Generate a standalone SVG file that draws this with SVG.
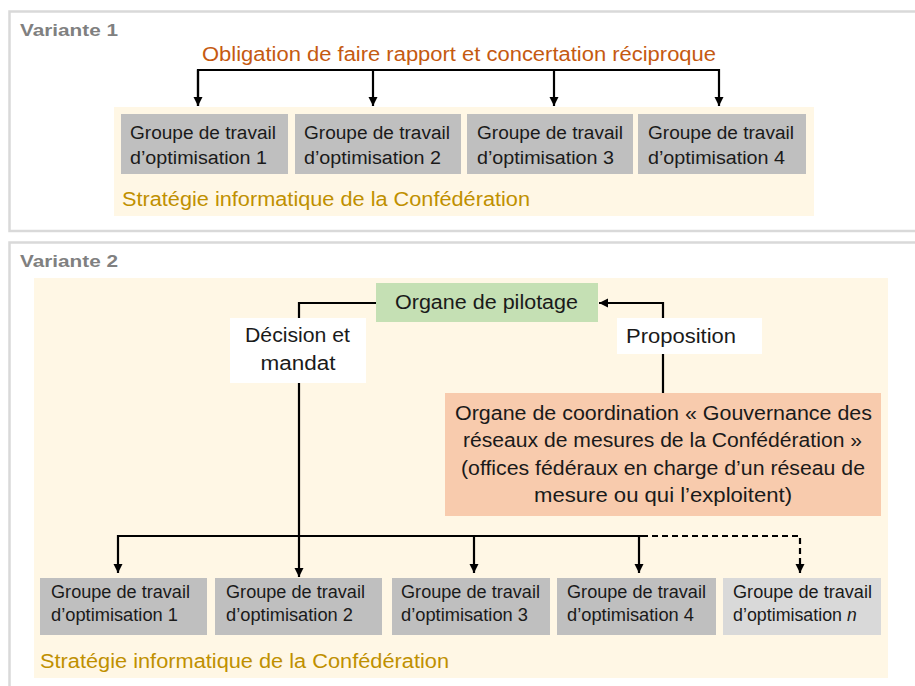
<svg xmlns="http://www.w3.org/2000/svg" width="915" height="686" viewBox="0 0 915 686">
<defs>
<style>
text{font-family:"Liberation Sans",Arial,sans-serif;}
.frame{fill:#fff;stroke:#d9d9d9;stroke-width:2.5;}
.title{font-size:17px;font-weight:bold;fill:#808080;}
.bg{fill:#fff7e5;}
.grp{fill:#bfbfbf;}
.grpl{fill:#d9d9d9;}
.t{font-size:18px;fill:#1a1a1a;}
.t2{font-size:17.5px;fill:#1a1a1a;}
.gold{font-size:19.5px;fill:#bf9000;}
.orange{font-size:19.5px;fill:#c55a11;}
.c{fill:none;stroke:#000;stroke-width:2.2;}
.dash{stroke-dasharray:6,4;}
.lbl{fill:#fff;}
.big{font-size:19.5px;fill:#1a1a1a;}
</style>
<marker id="ah" viewBox="0 0 10 10" refX="10" refY="5" markerWidth="9" markerHeight="10" markerUnits="userSpaceOnUse" orient="auto">
<path d="M0,0 L10,5 L0,10 z" fill="#000"/>
</marker>
</defs>

<!-- Variante 1 -->
<g id="variante1">
<rect class="frame" x="9.5" y="11.5" width="912" height="219.5"/>
<text class="title" x="20" y="36" textLength="98" lengthAdjust="spacingAndGlyphs">Variante 1</text>
<text class="orange" x="202" y="61" textLength="514" lengthAdjust="spacingAndGlyphs">Obligation de faire rapport et concertation réciproque</text>
<rect class="bg" x="114" y="107" width="700" height="109"/>
<text class="gold" x="122" y="206" textLength="408" lengthAdjust="spacingAndGlyphs">Stratégie informatique de la Confédération</text>
</g>
<g id="v1-g1">
<rect class="grp" x="121" y="114" width="167" height="60"/>
<text class="t" x="130" y="139" textLength="146" lengthAdjust="spacingAndGlyphs">Groupe de travail</text>
<text class="t" x="130" y="164" textLength="137" lengthAdjust="spacingAndGlyphs">d’optimisation 1</text>
</g>
<g id="v1-g2">
<rect class="grp" x="295" y="114" width="166" height="60"/>
<text class="t" x="304" y="139" textLength="146" lengthAdjust="spacingAndGlyphs">Groupe de travail</text>
<text class="t" x="304" y="164" textLength="137" lengthAdjust="spacingAndGlyphs">d’optimisation 2</text>
</g>
<g id="v1-g3">
<rect class="grp" x="467" y="114" width="166" height="60"/>
<text class="t" x="477" y="139" textLength="146" lengthAdjust="spacingAndGlyphs">Groupe de travail</text>
<text class="t" x="477" y="164" textLength="137" lengthAdjust="spacingAndGlyphs">d’optimisation 3</text>
</g>
<g id="v1-g4">
<rect class="grp" x="638" y="114" width="168" height="60"/>
<text class="t" x="648" y="139" textLength="146" lengthAdjust="spacingAndGlyphs">Groupe de travail</text>
<text class="t" x="648" y="164" textLength="137" lengthAdjust="spacingAndGlyphs">d’optimisation 4</text>
</g>

<!-- Variante 2 -->
<g id="variante2">
<rect class="frame" x="9.5" y="242.5" width="912" height="460"/>
<text class="title" x="20" y="267" textLength="98" lengthAdjust="spacingAndGlyphs">Variante 2</text>
<rect class="bg" x="34" y="278" width="854" height="400"/>
<text class="gold" x="40" y="668" textLength="409" lengthAdjust="spacingAndGlyphs">Stratégie informatique de la Confédération</text>
</g>

<g id="connectors">
<path class="c" d="M198,106 V70 H719 V106" marker-end="url(#ah)"/>
<path class="c" d="M198,70 V106" marker-end="url(#ah)"/>
<path class="c" d="M373,70 V106" marker-end="url(#ah)"/>
<path class="c" d="M554,70 V106" marker-end="url(#ah)"/>
<path class="c" d="M376,303 H299 V577" marker-end="url(#ah)"/>
<path class="c" d="M663,393 V303 H599" marker-end="url(#ah)"/>
<path class="c" d="M642,536 H118 V573" marker-end="url(#ah)"/>
<path class="c" d="M474,536 V573" marker-end="url(#ah)"/>
<path class="c" d="M639,536 V573" marker-end="url(#ah)"/>
<path class="c dash" d="M642,536 H800 V573" marker-end="url(#ah)"/>
</g>

<g id="pilotage">
<rect fill="#c5e0b4" x="376" y="283" width="222" height="39"/>
<text class="big" x="395" y="309" textLength="183" lengthAdjust="spacingAndGlyphs">Organe de pilotage</text>
</g>
<g id="lbl-decision">
<rect class="lbl" x="230" y="318" width="136" height="65"/>
<text class="big" x="245" y="342" textLength="105" lengthAdjust="spacingAndGlyphs">Décision et</text>
<text class="big" x="298" y="370" text-anchor="middle" textLength="75" lengthAdjust="spacingAndGlyphs">mandat</text>
</g>
<g id="lbl-proposition">
<rect class="lbl" x="617" y="318" width="145" height="36"/>
<text class="big" x="626" y="343" textLength="110" lengthAdjust="spacingAndGlyphs">Proposition</text>
</g>
<g id="coordination">
<rect fill="#f8cbad" x="445" y="393" width="436" height="123"/>
<text class="big" x="455" y="420" textLength="417" lengthAdjust="spacingAndGlyphs">Organe de coordination « Gouvernance des</text>
<text class="big" x="463" y="447" textLength="399" lengthAdjust="spacingAndGlyphs">réseaux de mesures de la Confédération »</text>
<text class="big" x="461" y="475" textLength="404" lengthAdjust="spacingAndGlyphs">(offices fédéraux en charge d’un réseau de</text>
<text class="big" x="534" y="502" textLength="258" lengthAdjust="spacingAndGlyphs">mesure ou qui l’exploitent)</text>
</g>

<g id="v2-g1">
<rect class="grp" x="40" y="578" width="167" height="57"/>
<text class="t2" x="51" y="598" textLength="139" lengthAdjust="spacingAndGlyphs">Groupe de travail</text>
<text class="t2" x="51" y="621" textLength="127" lengthAdjust="spacingAndGlyphs">d’optimisation 1</text>
</g>
<g id="v2-g2">
<rect class="grp" x="215" y="578" width="167" height="57"/>
<text class="t2" x="226" y="598" textLength="139" lengthAdjust="spacingAndGlyphs">Groupe de travail</text>
<text class="t2" x="226" y="621" textLength="127" lengthAdjust="spacingAndGlyphs">d’optimisation 2</text>
</g>
<g id="v2-g3">
<rect class="grp" x="392" y="578" width="158" height="57"/>
<text class="t2" x="401" y="598" textLength="139" lengthAdjust="spacingAndGlyphs">Groupe de travail</text>
<text class="t2" x="401" y="621" textLength="127" lengthAdjust="spacingAndGlyphs">d’optimisation 3</text>
</g>
<g id="v2-g4">
<rect class="grp" x="557" y="578" width="159" height="57"/>
<text class="t2" x="567" y="598" textLength="139" lengthAdjust="spacingAndGlyphs">Groupe de travail</text>
<text class="t2" x="567" y="621" textLength="127" lengthAdjust="spacingAndGlyphs">d’optimisation 4</text>
</g>
<g id="v2-gn">
<rect class="grpl" x="723" y="578" width="158" height="57"/>
<text class="t2" x="733" y="598" textLength="139" lengthAdjust="spacingAndGlyphs">Groupe de travail</text>
<text class="t2" x="733" y="621"><tspan textLength="114" lengthAdjust="spacingAndGlyphs">d’optimisation </tspan><tspan font-style="italic">n</tspan></text>
</g>
</svg>
